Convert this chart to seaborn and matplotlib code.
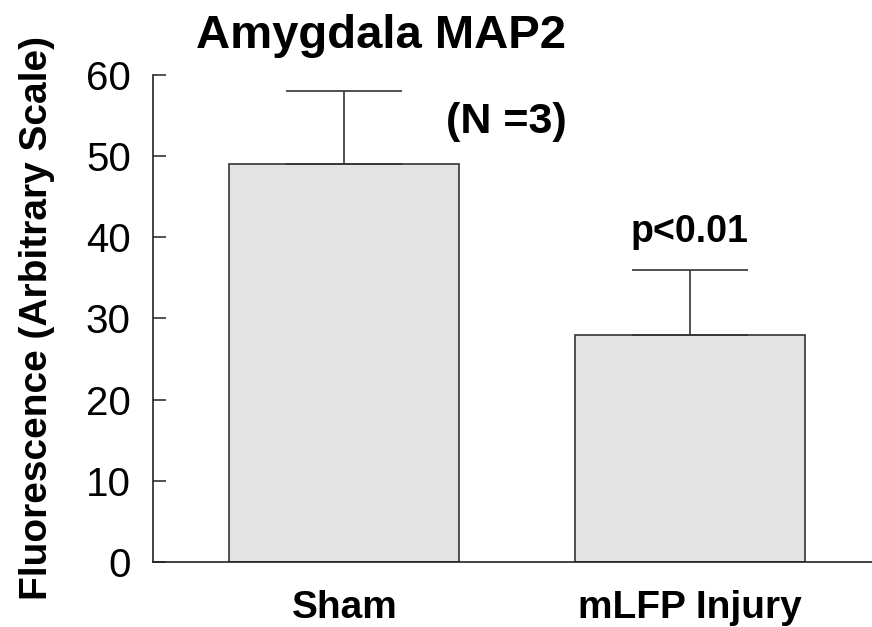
import matplotlib
matplotlib.use("Agg")
import matplotlib.pyplot as plt
import seaborn as sns
import pandas as pd

# data
groups = ["Sham", "mLFP Injury"]
means = [49, 28]
errors = [9, 8]

sns.set_theme(style="white")
plt.rcParams['font.family'] = ['Liberation Sans', 'DejaVu Sans']
plt.rcParams['text.color'] = 'black'
plt.rcParams['axes.labelcolor'] = 'black'
plt.rcParams['xtick.color'] = 'black'
plt.rcParams['ytick.color'] = 'black'

df = pd.DataFrame({"group": groups, "value": means})

fig = plt.figure(figsize=(8.72, 6.27), dpi=100)
ax = fig.add_axes([0.1755, 0.1037, 0.8245, 0.7767])

sns.barplot(data=df, x="group", y="value", ax=ax, color="#e3e3e3",
            edgecolor="#333333", linewidth=1.2, width=0.666,
            errorbar=None, saturation=1)

# upper error bars only
ax.errorbar(x=range(len(groups)), y=means, yerr=[[0] * len(errors), errors],
            fmt="none", ecolor="#333333", elinewidth=1.2, capsize=41.7,
            capthick=1.2)

ax.set_ylim(0, 60)
ax.set_xlim(-0.554, 1.527)
ax.set_yticks(range(0, 61, 10))
ax.tick_params(axis="y", direction="in", length=9, width=1.2, labelsize=29,
               left=True, pad=16, color="#333333", labelcolor="black")
ax.tick_params(axis="x", length=0, labelsize=28, pad=20, labelcolor="black")
for lbl in ax.get_xticklabels():
    lbl.set_fontweight("bold")

sns.despine(ax=ax, top=True, right=True)
for sp in ["left", "bottom"]:
    ax.spines[sp].set_color("#222222")
    ax.spines[sp].set_linewidth(1.2)

ax.set_xlabel("")
ax.set_ylabel("Fluorescence (Arbitrary Scale)", fontsize=28, fontweight="bold",
              labelpad=22, color="black")

fig.text(0.437, 0.9234, "Amygdala MAP2", fontsize=34, fontweight="bold",
         ha="center", va="baseline", color="black")
ax.text(0.47, 52.85, "(N =3)", fontsize=31, fontweight="bold",
        ha="center", va="baseline", color="black")
ax.text(1.0, 39.4, "p<0.01", fontsize=27, fontweight="bold",
        ha="center", va="baseline", color="black")

fig.savefig("out.png", dpi=100)
